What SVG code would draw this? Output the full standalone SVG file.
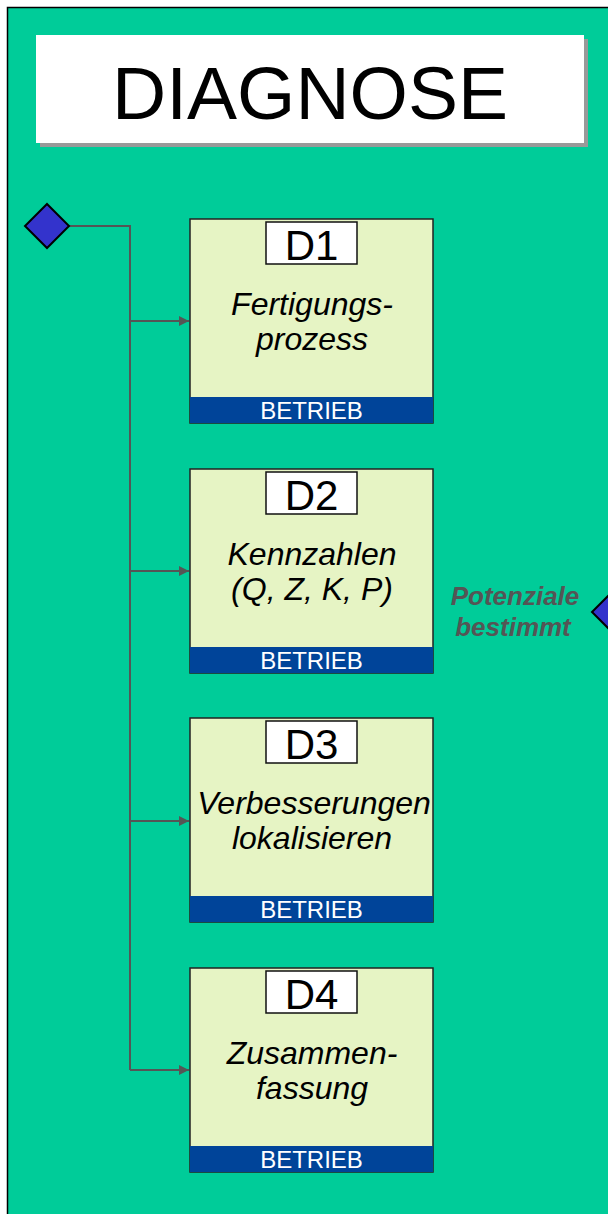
<svg xmlns="http://www.w3.org/2000/svg" width="608" height="1214" viewBox="0 0 608 1214">
<defs>
<style>
.box{fill:#E6F4C4;stroke:#222;stroke-width:1.5}
.band{fill:#004499}
.lbl{fill:#fff;stroke:#111;stroke-width:1.5}
.dtxt{font-family:"Liberation Sans",Arial,sans-serif;font-size:42px;fill:#000;text-anchor:middle}
.body{font-family:"Liberation Sans",Arial,sans-serif;font-size:32px;font-style:italic;fill:#000;text-anchor:middle}
.bt{font-family:"Liberation Sans",Arial,sans-serif;font-size:24px;fill:#fff;text-anchor:middle}
.conn{fill:none;stroke:#555;stroke-width:2}
.dia{fill:#3333CC;stroke:#000;stroke-width:2}
.pot{font-family:"Liberation Sans",Arial,sans-serif;font-size:26px;font-weight:bold;font-style:italic;fill:#555;text-anchor:middle}
</style>
<marker id="arr" viewBox="0 0 10 10" refX="10" refY="5" markerWidth="10" markerHeight="10" markerUnits="userSpaceOnUse" orient="auto">
<path d="M0,0 L10,5 L0,10 Z" fill="#555"/>
</marker>
</defs>
<rect width="608" height="1214" fill="#fff"/>
<rect x="7.5" y="7.5" width="620" height="1230" fill="#00CC99" stroke="#000" stroke-width="1.5"/>
<g id="title">
<rect x="40" y="39" width="548" height="108" fill="#999"/>
<rect x="36" y="35" width="548" height="108" fill="#fff"/>
<text x="310" y="119" font-family="Liberation Sans,Arial,sans-serif" font-size="75" text-anchor="middle">DIAGNOSE</text>
</g>
<g id="connectors">
<path class="conn" d="M69,226 H130 V1070"/>
<path class="conn" d="M130,321 H189" marker-end="url(#arr)"/>
<path class="conn" d="M130,571 H189" marker-end="url(#arr)"/>
<path class="conn" d="M130,821 H189" marker-end="url(#arr)"/>
<path class="conn" d="M130,1070 H189" marker-end="url(#arr)"/>
</g>
<g id="start">
<path class="dia" d="M47,204 L69,226 L47,248 L25,226 Z"/>
</g>
<g id="D1">
<rect class="box" x="190" y="219" width="243" height="204"/>
<rect class="band" x="190" y="397" width="243" height="26"/>
<rect class="lbl" x="266" y="222" width="91" height="42"/>
<text class="dtxt" x="311.5" y="260">D1</text>
<text class="body" x="312" y="315">Fertigungs-</text>
<text class="body" x="312" y="350">prozess</text>
<text class="bt" x="311.5" y="419">BETRIEB</text>
</g>
<g id="D2">
<rect class="box" x="190" y="469" width="243" height="204"/>
<rect class="band" x="190" y="647" width="243" height="26"/>
<rect class="lbl" x="266" y="472" width="91" height="42"/>
<text class="dtxt" x="311.5" y="510">D2</text>
<text class="body" x="312" y="565">Kennzahlen</text>
<text class="body" x="312" y="600">(Q, Z, K, P)</text>
<text class="bt" x="311.5" y="669">BETRIEB</text>
</g>
<g id="D3">
<rect class="box" x="190" y="718" width="243" height="204"/>
<rect class="band" x="190" y="896" width="243" height="26"/>
<rect class="lbl" x="266" y="721" width="91" height="42"/>
<text class="dtxt" x="311.5" y="759">D3</text>
<text class="body" x="314" y="814">Verbesserungen</text>
<text class="body" x="312" y="849">lokalisieren</text>
<text class="bt" x="311.5" y="918">BETRIEB</text>
</g>
<g id="D4">
<rect class="box" x="190" y="968" width="243" height="204"/>
<rect class="band" x="190" y="1146" width="243" height="26"/>
<rect class="lbl" x="266" y="971" width="91" height="42"/>
<text class="dtxt" x="311.5" y="1009">D4</text>
<text class="body" x="312" y="1064">Zusammen-</text>
<text class="body" x="312" y="1099">fassung</text>
<text class="bt" x="311.5" y="1168">BETRIEB</text>
</g>
<g id="end">
<path class="dia" d="M614,590 L636,612 L614,634 L592,612 Z"/>
<text class="pot" x="515" y="605">Potenziale</text>
<text class="pot" x="513" y="636">bestimmt</text>
</g>
</svg>
